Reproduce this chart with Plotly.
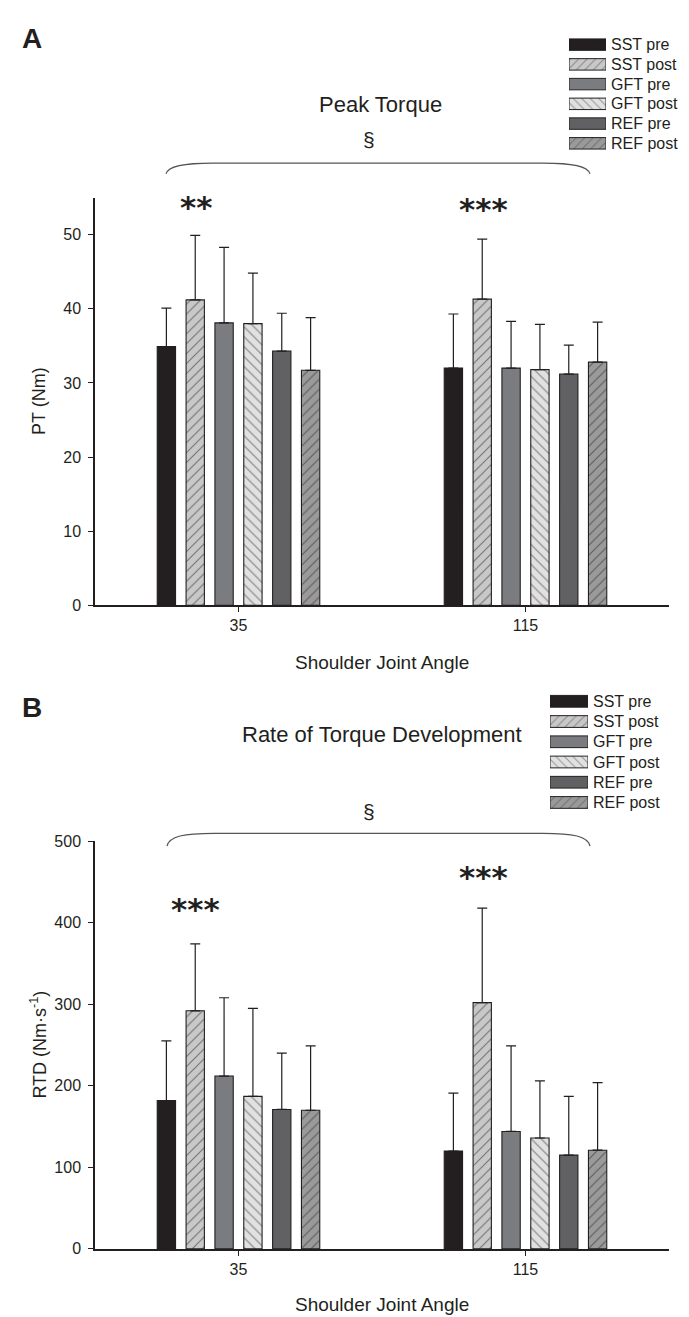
import plotly.graph_objects as go

# ---------------- data ----------------
categories = ["35", "115"]
series = ["SST pre", "SST post", "GFT pre", "GFT post", "REF pre", "REF post"]

pt_35 = [34.9, 41.2, 38.1, 38.0, 34.3, 31.7]
pt_115 = [32.0, 41.3, 32.0, 31.8, 31.2, 32.8]
pt_sd_35 = [5.2, 8.7, 10.2, 6.8, 5.1, 7.1]
pt_sd_115 = [7.3, 8.1, 6.3, 6.1, 3.9, 5.4]

rtd_35 = [182, 292, 212, 187, 171, 170]
rtd_115 = [120, 302, 144, 136, 115, 121]
rtd_sd_35 = [73, 82, 96, 108, 69, 79]
rtd_sd_115 = [71, 116, 105, 70, 72, 83]

pt_ticks = [0, 10, 20, 30, 40, 50]
rtd_ticks = [0, 100, 200, 300, 400, 500]
legend_len = [1, 1, 1, 1, 1, 1]

# ---------------- style ----------------
INK = "#231f20"
FONT = "Arial, Liberation Sans, sans-serif"
fills = ["#231f20", "#c8c8c8", "#7b7c80", "#e1e1e1", "#616163", "#9a9a9a"]
hatches = ["", "/", "", "\\", "", "/"]

W, H = 689, 1317


def px(x):
    return x / W


def py(y):
    return 1 - y / H


fig = go.Figure()

panels = [
    ("x", "y", pt_35, pt_115, pt_sd_35, pt_sd_115),
    ("x2", "y2", rtd_35, rtd_115, rtd_sd_35, rtd_sd_115),
]
for xa, ya, m35, m115, s35, s115 in panels:
    for i, name in enumerate(series):
        fig.add_trace(go.Bar(
            x=categories, y=[m35[i], m115[i]], name=name,
            xaxis=xa, yaxis=ya, showlegend=False,
            marker=dict(color=fills[i], line=dict(color=INK, width=1.1),
                        pattern=dict(shape=hatches[i], fgcolor=INK, bgcolor=fills[i],
                                     size=7, solidity=0.16)),
            error_y=dict(type="data", symmetric=False, array=[s35[i], s115[i]],
                         arrayminus=[0, 0], color=INK, thickness=1.2, width=5),
        ))

# legend swatches (drawn as small horizontal bars)
for xa, ya in [("x3", "y3"), ("x4", "y4")]:
    fig.add_trace(go.Bar(
        y=series, x=legend_len, orientation="h", xaxis=xa, yaxis=ya,
        width=0.58, showlegend=False,
        marker=dict(color=fills, line=dict(color=INK, width=1),
                    pattern=dict(shape=hatches, fgcolor=INK, bgcolor=fills,
                                 size=6, solidity=0.16)),
    ))

xdom = [px(87), px(661)]
common_x = dict(type="category", range=[-0.5, 1.5], showline=True, linecolor=INK,
                linewidth=1.5, ticks="outside", ticklen=5, tickcolor=INK, tickwidth=1,
                tickfont=dict(size=16, color=INK, family=FONT), showgrid=False,
                zeroline=False, fixedrange=True)
common_y = dict(showline=True, linecolor=INK, linewidth=1.5, ticks="outside", ticklen=5,
                tickcolor=INK, tickwidth=1, tickfont=dict(size=16, color=INK, family=FONT),
                showgrid=False, zeroline=False, fixedrange=True, ticklabelstandoff=4)
leg_y = dict(type="category", autorange="reversed", side="right", showline=False,
             ticks="", showgrid=False, zeroline=False, ticklabelstandoff=4,
             tickfont=dict(size=16, color=INK, family=FONT), fixedrange=True)
leg_x = dict(range=[0, 1], visible=False, fixedrange=True)

fig.update_layout(
    width=W, height=H,
    margin=dict(l=0, r=0, t=0, b=0),
    paper_bgcolor="white", plot_bgcolor="white",
    barmode="group", bargap=0.397, bargroupgap=0.365,
    font=dict(family=FONT, color=INK),
    xaxis=dict(domain=xdom, anchor="y", **common_x),
    yaxis=dict(domain=[py(597), py(184)], anchor="x", range=[0, 55], tickvals=pt_ticks,
               **common_y),
    xaxis2=dict(domain=xdom, anchor="y2", **common_x),
    yaxis2=dict(domain=[py(1249), py(836)], anchor="x2", range=[0, 500],
                tickvals=rtd_ticks, **common_y),
    xaxis3=dict(domain=[px(561), px(598)], anchor="y3", **leg_x),
    yaxis3=dict(domain=[py(139), py(19)], anchor="x3", **leg_y),
    xaxis4=dict(domain=[px(542), px(580)], anchor="y4", **leg_x),
    yaxis4=dict(domain=[py(807), py(684)], anchor="x4", **leg_y),
)


def txt(x, y, s, size, bold=False, angle=0, family=FONT):
    fig.add_annotation(x=px(x), y=py(y), xref="paper", yref="paper", text=s,
                       showarrow=False, textangle=angle, xanchor="center", yanchor="middle",
                       font=dict(size=size, color=INK, family=family,
                                 weight="bold" if bold else "normal"))


# panel letters
txt(24, 23, "A", 28, bold=True)
txt(24, 701, "B", 28, bold=True)
# titles and section marks
txt(372, 90, "Peak Torque", 22)
txt(361, 125, "§", 21)
txt(374, 728, "Rate of Torque Development", 22)
txt(361, 806, "§", 21)
# axis titles
txt(374, 655, "Shoulder Joint Angle", 19)
txt(374, 1305, "Shoulder Joint Angle", 19)
txt(31, 390, "PT (Nm)", 18, angle=-90)
txt(31, 1042, "RTD (Nm·s<sup>-1</sup>)", 18, angle=-90)
# significance stars
STAR = "DejaVu Sans, sans-serif"
txt(188, 193, "**", 31, bold=True, family=STAR)
txt(475, 196, "***", 31, bold=True, family=STAR)
txt(187, 905, "***", 31, bold=True, family=STAR)
txt(475, 872, "***", 31, bold=True, family=STAR)


# braces
def brace(x0, x1, ytop, ytip):
    p = (f"M {px(x0)},{py(ytip)} C {px(x0 + 2)},{py(ytop + 3)} {px(x0 + 17)},{py(ytop)} "
         f"{px(x0 + 47)},{py(ytop)} L {px(x1 - 47)},{py(ytop)} "
         f"C {px(x1 - 17)},{py(ytop)} {px(x1 - 2)},{py(ytop + 3)} {px(x1)},{py(ytip)}")
    fig.add_shape(type="path", path=p, xref="paper", yref="paper",
                  line=dict(color="#555555", width=1.2))


brace(158, 582, 149, 160)
brace(159, 582, 828, 841)

fig.write_html("out.html")
